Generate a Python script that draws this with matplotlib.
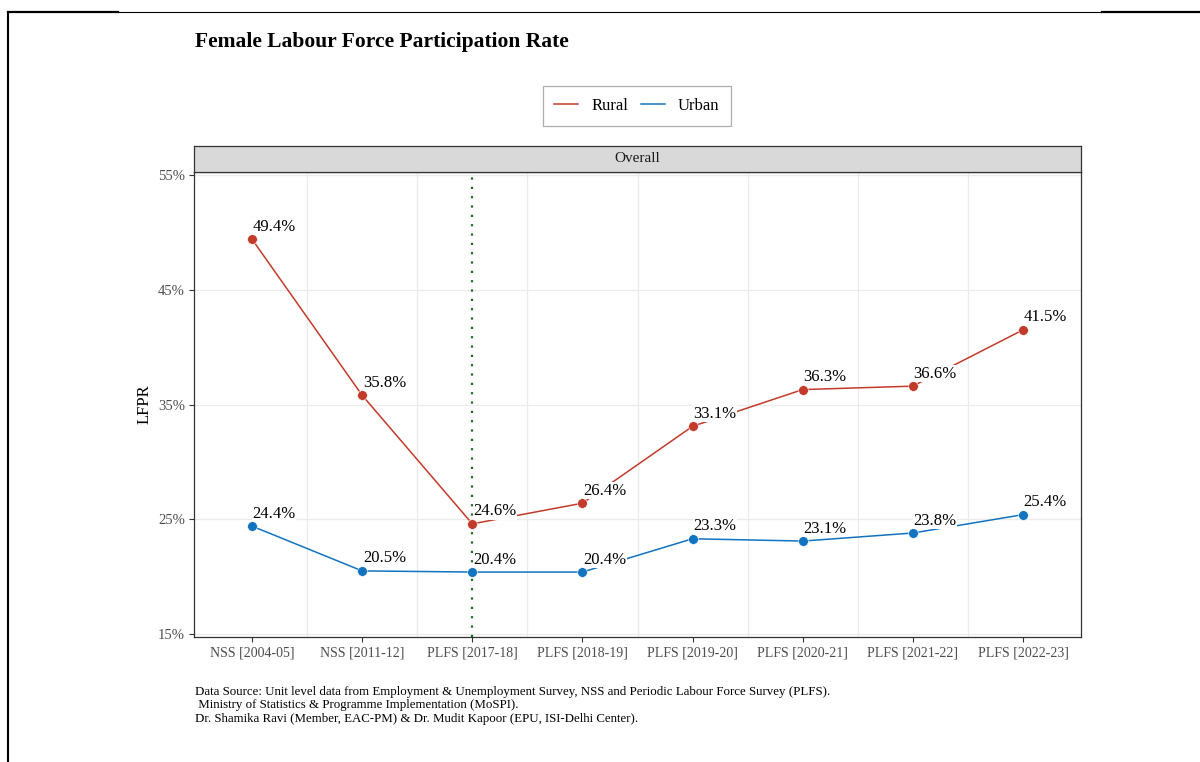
import numpy as np
import matplotlib
matplotlib.use("Agg")
import matplotlib.pyplot as plt
from matplotlib.lines import Line2D

plt.rcParams['font.family'] = ['Liberation Serif', 'DejaVu Serif']

rounds = ["NSS [2004-05]", "NSS [2011-12]", "PLFS [2017-18]", "PLFS [2018-19]",
          "PLFS [2019-20]", "PLFS [2020-21]", "PLFS [2021-22]", "PLFS [2022-23]"]
rural = [49.4, 35.8, 24.6, 26.4, 33.1, 36.3, 36.6, 41.5]
urban = [24.4, 20.5, 20.4, 20.4, 23.3, 23.1, 23.8, 25.4]
y_ticks = [15, 25, 35, 45, 55]
marker_round = "PLFS [2017-18]"

red = '#C23B2A'
blue = '#1273C0'
grey_border = '#333333'

fig = plt.figure(figsize=(12, 7.62), dpi=100)

# main panel
ax = fig.add_axes([194/1200, 1-637/762, 887/1200, 465/762])
x = np.arange(len(rounds))
ax.set_xlim(-0.527, len(rounds) - 1 + 0.527)
ax.set_ylim(14.74, 55.26)

for yt in y_ticks:
    ax.axhline(yt, color='#EBEBEB', lw=0.9, zorder=0)
for xm in x[:-1] + 0.5:
    ax.axvline(xm, color='#EBEBEB', lw=0.9, zorder=0)

ax.axvline(rounds.index(marker_round), color='#1E6B1E', lw=1.6, ls=(0, (1, 3.2)), zorder=1)

ax.plot(x, rural, color=red, lw=1.1, marker='o', ms=7, mec='white', mew=0.4, zorder=3, label='Rural')
ax.plot(x, urban, color=blue, lw=1.1, marker='o', ms=7, mec='white', mew=0.4, zorder=3, label='Urban')

for series in (rural, urban):
    for xi, v in zip(x, series):
        ax.annotate(f"{v:.1f}%", (xi, v), xytext=(0.5, 9), textcoords='offset points',
                    ha='left', va='center', fontsize=12, color='black', zorder=4,
                    bbox=dict(facecolor='white', edgecolor='none', pad=0.3))

ax.set_xticks(x)
ax.set_xticklabels(rounds, fontsize=10, color='#4D4D4D')
ax.set_yticks(y_ticks)
ax.set_yticklabels([f"{t}%" for t in y_ticks], fontsize=10.5, color='#4D4D4D')
ax.tick_params(axis='both', length=3.5, width=0.8, color=grey_border, pad=3)
for sp in ax.spines.values():
    sp.set_color(grey_border)
    sp.set_linewidth(0.9)
ax.set_ylabel("LFPR", fontsize=12, labelpad=4)

# facet strip
strip = fig.add_axes([194/1200, 1-172/762, 887/1200, 26/762])
strip.set_facecolor('#D9D9D9')
strip.set_xticks([])
strip.set_yticks([])
for sp in strip.spines.values():
    sp.set_color(grey_border)
    sp.set_linewidth(0.9)
strip.text(0.5, 0.5, "Overall", ha='center', va='center', fontsize=11, color='#1A1A1A',
           transform=strip.transAxes)

# legend
handles = [Line2D([0], [0], color=red, lw=1.1), Line2D([0], [0], color=blue, lw=1.1)]
leg = fig.legend(handles, ['Rural', 'Urban'], loc='center', bbox_to_anchor=(637/1200, 1-106/762),
                 ncol=2, fontsize=12, frameon=True, fancybox=False, handlelength=1.4,
                 columnspacing=0.8, handletextpad=0.8, borderpad=0.7)
leg.get_frame().set_edgecolor('#9A9A9A')
leg.get_frame().set_linewidth(0.9)

fig.text(195/1200, 1-42/762, "Female Labour Force Participation Rate", fontsize=15.5,
         fontweight='bold', ha='left', va='center')

caption = ("Data Source: Unit level data from Employment & Unemployment Survey, NSS and Periodic Labour Force Survey (PLFS).\n"
           " Ministry of Statistics & Programme Implementation (MoSPI).\n"
           "Dr. Shamika Ravi (Member, EAC-PM) & Dr. Mudit Kapoor (EPU, ISI-Delhi Center).")
fig.text(195/1200, 1-686/762, caption, fontsize=9.3, ha='left', va='top', linespacing=1.15)

# page border lines
fig.add_artist(Line2D([8/1200, 8/1200], [0, 1-12/762], color='black', lw=1.5, transform=fig.transFigure))
fig.add_artist(Line2D([8/1200, 118/1200], [1-12/762, 1-12/762], color='black', lw=1.6, transform=fig.transFigure))
fig.add_artist(Line2D([118/1200, 1102/1200], [1-11.5/762, 1-11.5/762], color='black', lw=0.8, transform=fig.transFigure))
fig.add_artist(Line2D([1102/1200, 1], [1-12.3/762, 1-12.3/762], color='black', lw=1.6, transform=fig.transFigure))

fig.savefig("out.png", dpi=100)
